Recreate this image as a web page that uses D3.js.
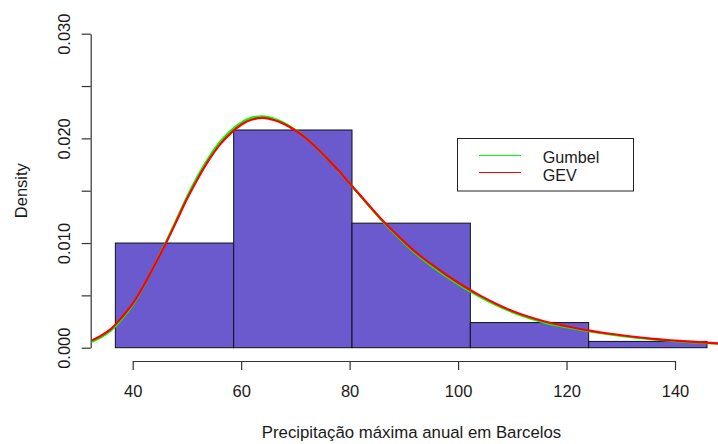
<!DOCTYPE html>
<html>
<head>
<meta charset="utf-8">
<script src="https://cdn.jsdelivr.net/npm/d3@7"></script>
<style>
  html, body { margin: 0; padding: 0; background: #fff; }
  svg { display: block; }
  text { font-family: "Liberation Sans", Arial, sans-serif; fill: #1a1a1a; }
</style>
</head>
<body>
<svg id="chart" width="718" height="444"></svg>
<script>
// Histogram of annual maximum precipitation (density scale)
const binEdges = [36.8, 58.62, 80.44, 102.26, 124.08, 145.9];
const densities = [0.0100, 0.0208, 0.0119, 0.0024, 0.0006];

// Fitted density curves, sampled along the precipitation axis
const curveX = [32.5, 34, 36, 38, 40, 42, 44, 46, 48, 50, 52, 54, 56, 58, 60, 62, 64, 66, 68, 70, 72, 74, 76, 78, 80, 82, 84, 86, 88, 90, 92, 95, 98, 101, 104, 107, 110, 113, 116, 120, 124, 128, 132, 136, 140, 145, 150.3];
const gumbelY = [0.00058, 0.00095, 0.00165, 0.00275, 0.00410, 0.00585, 0.00785, 0.00995, 0.01215, 0.01440, 0.01640, 0.01815, 0.01960, 0.02070, 0.02150, 0.02198, 0.02210, 0.02190, 0.02145, 0.02080, 0.02000, 0.01905, 0.01800, 0.01688, 0.01568, 0.01450, 0.01330, 0.01212, 0.01105, 0.01003, 0.00908, 0.00785, 0.00675, 0.00575, 0.00487, 0.00408, 0.00340, 0.00285, 0.00240, 0.00195, 0.00157, 0.00126, 0.00100, 0.00080, 0.00063, 0.00046, 0.00033];
const gevY = [0.00070, 0.00110, 0.00180, 0.00290, 0.00420, 0.00590, 0.00785, 0.00985, 0.01200, 0.01420, 0.01615, 0.01790, 0.01935, 0.02045, 0.02130, 0.02180, 0.02195, 0.02175, 0.02135, 0.02075, 0.02000, 0.01905, 0.01800, 0.01690, 0.01570, 0.01455, 0.01335, 0.01220, 0.01115, 0.01015, 0.00920, 0.00800, 0.00690, 0.00590, 0.00500, 0.00420, 0.00350, 0.00295, 0.00250, 0.00205, 0.00165, 0.00133, 0.00107, 0.00085, 0.00068, 0.00050, 0.00036];

// Axis ticks and labels
const xTicks = [40, 60, 80, 100, 120, 140];
const yTicks = [0, 0.005, 0.010, 0.015, 0.020, 0.025, 0.030];
const yTickLabels = ["0.000", "", "0.010", "", "0.020", "", "0.030"];

const legendItems = ["Gumbel", "GEV"];
const legendColors = ["#00ff00", "#ff0000"];

const svg = d3.select("#chart");

const x = d3.scaleLinear().domain([40, 140]).range([132.7, 675]);
const y = d3.scaleLinear().domain([0, 0.03]).range([347.7, 33.7]);

// plotting region clip
svg.append("defs").append("clipPath").attr("id", "plotClip")
  .append("rect").attr("x", 90.7).attr("y", 21).attr("width", 640).attr("height", 340);

// bars
const bins = densities.map((d, i) => ({ x0: binEdges[i], x1: binEdges[i + 1], d }));
svg.append("g").selectAll("rect").data(bins).join("rect")
  .attr("x", b => x(b.x0))
  .attr("y", b => y(b.d))
  .attr("width", b => x(b.x1) - x(b.x0))
  .attr("height", b => y(0) - y(b.d))
  .attr("fill", "#6a5acd")
  .attr("stroke", "#111")
  .attr("stroke-width", 1);

// density curves
const line = d3.line()
  .x(d => x(d[0]))
  .y(d => y(d[1]))
  .curve(d3.curveMonotoneX);

const curves = svg.append("g").attr("clip-path", "url(#plotClip)");
curves.append("path")
  .datum(curveX.map((v, i) => [v, gumbelY[i]]))
  .attr("d", line).attr("fill", "none")
  .attr("stroke", "#00ff00").attr("stroke-width", 2.2);
curves.append("path")
  .datum(curveX.map((v, i) => [v, gevY[i]]))
  .attr("d", line).attr("fill", "none")
  .attr("stroke", "#ff0000").attr("stroke-width", 2.2);

// x axis
const xAxis = svg.append("g")
  .attr("transform", "translate(0,361)")
  .call(d3.axisBottom(x).tickValues(xTicks).tickSize(9).tickSizeOuter(0).tickPadding(0));
xAxis.select(".domain").attr("stroke", "#333").attr("stroke-width", 1.2);
xAxis.selectAll(".tick line").attr("stroke", "#333").attr("stroke-width", 1.2);
xAxis.selectAll(".tick text")
  .attr("y", 36.3).attr("dy", null)
  .style("font-size", "16.5px").style("font-family", "Liberation Sans, Arial, sans-serif")
  .attr("fill", "#1a1a1a");

// y axis
const yAxis = svg.append("g")
  .attr("transform", "translate(90.7,0)")
  .call(d3.axisLeft(y).tickValues(yTicks).tickSize(9).tickSizeOuter(0)
    .tickFormat((d, i) => yTickLabels[i]));
yAxis.select(".domain").attr("stroke", "#333").attr("stroke-width", 1.2);
yAxis.selectAll(".tick line").attr("stroke", "#333").attr("stroke-width", 1.2);
yAxis.selectAll(".tick text")
  .attr("transform", "rotate(-90)")
  .attr("x", 0).attr("y", -21.2).attr("dy", null)
  .attr("text-anchor", "middle")
  .style("font-size", "16.5px").style("font-family", "Liberation Sans, Arial, sans-serif")
  .attr("fill", "#1a1a1a");

// axis titles
svg.append("text")
  .attr("x", 411.5).attr("y", 438.3)
  .attr("text-anchor", "middle")
  .style("font-size", "16.8px")
  .text("Precipitação máxima anual em Barcelos");

svg.append("text")
  .attr("transform", "translate(26.5,190.7) rotate(-90)")
  .attr("text-anchor", "middle")
  .style("font-size", "16.5px")
  .text("Density");

// legend
const legend = svg.append("g");
legend.append("rect")
  .attr("x", 457.5).attr("y", 138.5).attr("width", 176).attr("height", 52.5)
  .attr("fill", "#fff").attr("stroke", "#222").attr("stroke-width", 1);
legendItems.forEach((name, i) => {
  const ly = 155.5 + i * 17;
  legend.append("line")
    .attr("x1", 479).attr("x2", 521).attr("y1", ly).attr("y2", ly)
    .attr("stroke", legendColors[i]).attr("stroke-width", 1)
    .attr("shape-rendering", "crispEdges");
  legend.append("text")
    .attr("x", 542.7).attr("y", 163.3 + i * 17.4)
    .style("font-size", "16.2px")
    .text(name);
});
</script>
</body>
</html>
